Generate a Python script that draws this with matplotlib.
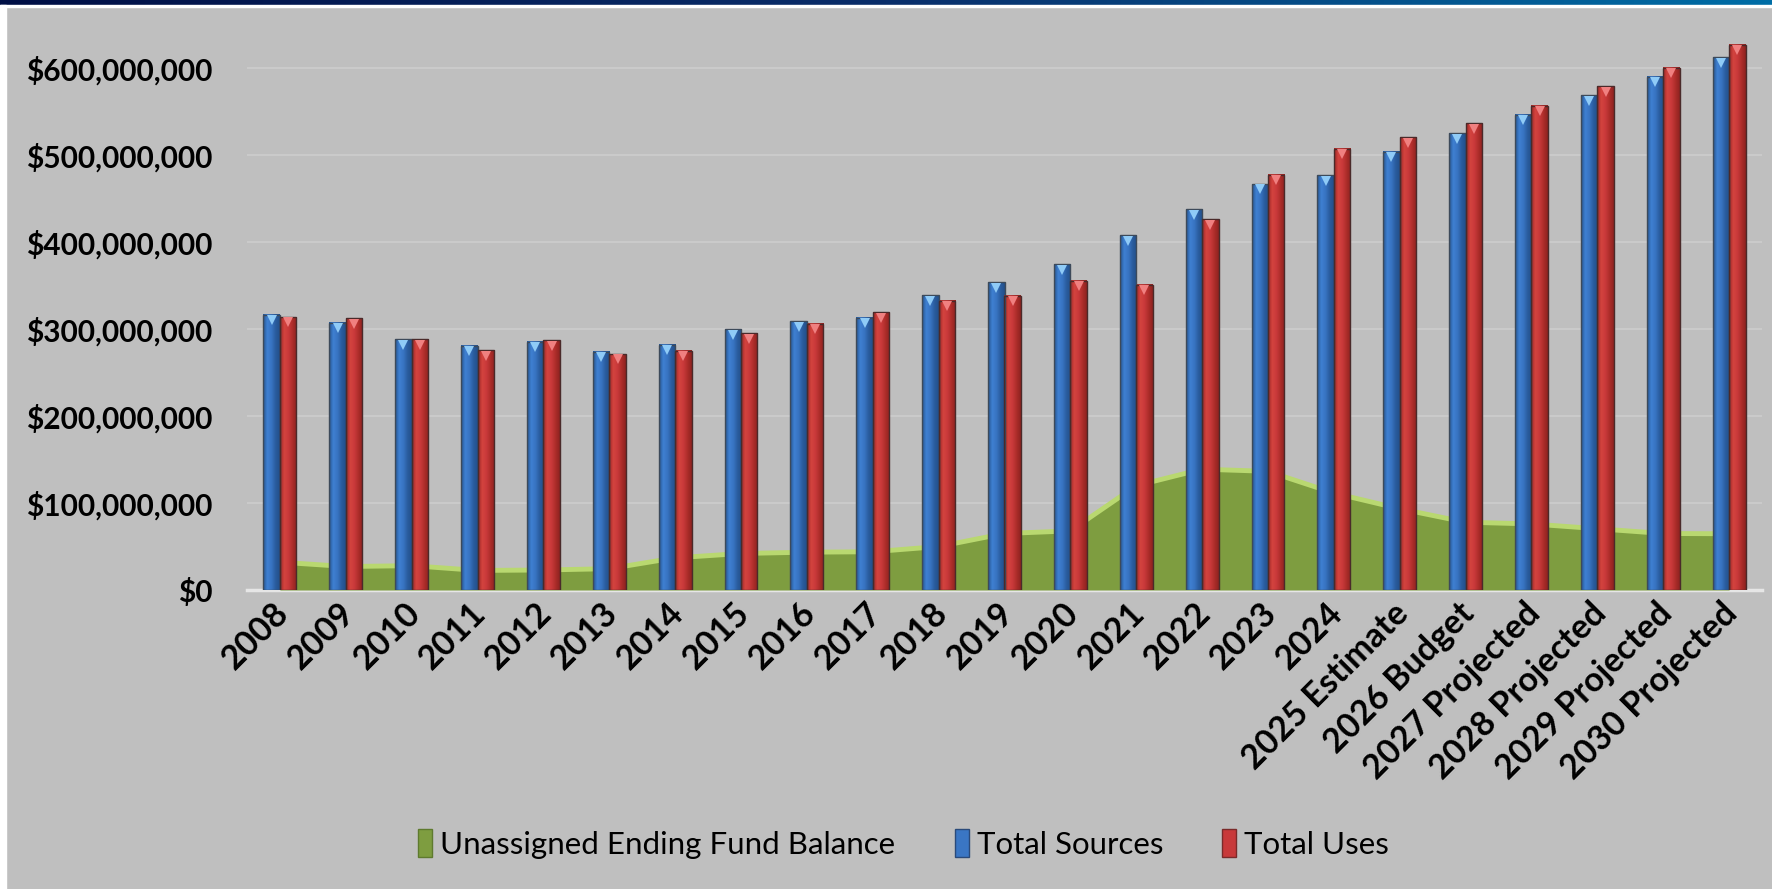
import numpy as np
import matplotlib.pyplot as plt
from matplotlib.colors import LinearSegmentedColormap
from matplotlib.patches import Patch
from matplotlib.ticker import FuncFormatter
import matplotlib.transforms as mtransforms

# values in millions of dollars
years = ['2008', '2009', '2010', '2011', '2012', '2013', '2014', '2015', '2016',
         '2017', '2018', '2019', '2020', '2021', '2022', '2023', '2024',
         '2025 Estimate', '2026 Budget', '2027 Projected', '2028 Projected',
         '2029 Projected', '2030 Projected']
total_sources = [316.5, 307.5, 288.5, 281, 285.5, 274, 282, 300, 309,
                 313, 339, 354, 374.5, 408, 438, 467, 477,
                 504, 525.5, 547, 569, 590.5, 613]
total_uses = [314, 312.5, 288.5, 276, 287.5, 271.5, 275, 295.5, 306.5,
              319.5, 332.5, 338.5, 355.5, 351, 426.5, 478, 507.5,
              521, 537, 557, 579.5, 601, 627.5]
fund_balance = [32, 27, 28, 22.5, 23, 24.5, 37, 42, 43.5,
                44, 50, 65, 68, 120, 139, 136.5, 111.5,
                93.5, 78, 76, 70.5, 65, 64.7]

plt.rcParams['font.family'] = ['Lato', 'DejaVu Sans']

fig = plt.figure(figsize=(17.72, 8.89), dpi=100, facecolor='#BFBFBF')

# header band + white margins
band = fig.add_axes([0, 1 - 5 / 889, 1, 5 / 889])
band.imshow(np.linspace(0, 1, 256).reshape(1, -1), aspect='auto',
            cmap=LinearSegmentedColormap.from_list('hdr', ['#000F45', '#0A2E6A', '#006EA6']))
band.axis('off')
fig.patches.append(plt.Rectangle((0, 0), 6 / 1772, 1 - 5 / 889, transform=fig.transFigure,
                                 color='white', zorder=0))
fig.patches.append(plt.Rectangle((0, 1 - 6.5 / 889), 1, 1.5 / 889, transform=fig.transFigure,
                                 color='white', zorder=0))

ax = fig.add_axes([247 / 1772, 1 - 590 / 889, 1515 / 1772, 565 / 889])
ax.set_facecolor('#BFBFBF')

x = np.arange(len(years))
w = 0.25

ax.fill_between(x, fund_balance, color='#7E9D40', zorder=2, lw=0)
ax.plot(x, fund_balance, color='#B9D870', lw=3.5, zorder=2.1)

b_src = ax.bar(x - w / 2, total_sources, w, zorder=4)
b_use = ax.bar(x + w / 2, total_uses, w, zorder=4)

grad = np.linspace(0, 1, 64).reshape(1, -1)
blue_cm = LinearSegmentedColormap.from_list('bl', ['#25548F', '#3F80D2', '#3874C2', '#2A5C9E', '#224F8A'])
red_cm = LinearSegmentedColormap.from_list('rd', ['#9A2624', '#D4443F', '#C9393A', '#AC2D2A', '#8E2220'])


def shade(bars, cmap, edge):
    for b in bars:
        x0, y0 = b.get_x(), b.get_y()
        ax.imshow(grad, extent=[x0, x0 + b.get_width(), y0, y0 + b.get_height()],
                  aspect='auto', cmap=cmap, zorder=3, interpolation='bilinear')
        b.set_facecolor('none')
        b.set_edgecolor(edge)
        b.set_linewidth(1.0)


shade(b_src, blue_cm, '#3D4A5A')
shade(b_use, red_cm, '#4A2A2A')

tri = mtransforms.offset_copy(ax.transData, fig=fig, x=0, y=-3.9, units='points')
ax.plot(x - w / 2, total_sources, 'v', ms=7.5, color='#8FCBF7', mew=0, transform=tri, zorder=5)
ax.plot(x + w / 2, total_uses, 'v', ms=7.5, color='#F08080', mew=0, transform=tri, zorder=5)

ax.set_xlim(-0.5, 22.5)
ax.set_ylim(0, 650)
ax.set_yticks(np.arange(0, 601, 100))
ax.yaxis.set_major_formatter(FuncFormatter(lambda v, p: '${:,.0f}'.format(v * 1e6)))
ax.grid(axis='y', color='#CACACA', lw=1.5, zorder=0)
ax.set_axisbelow(True)

for s in ['top', 'right', 'left']:
    ax.spines[s].set_visible(False)
ax.spines['bottom'].set_color('#E6E6E6')
ax.spines['bottom'].set_linewidth(2.5)
ax.spines['bottom'].set_zorder(1)

ax.tick_params(axis='y', length=0, pad=25, labelsize=21.5)
ax.tick_params(axis='x', length=0, pad=12, labelsize=24.5)
for lab in ax.get_yticklabels():
    lab.set_fontweight('bold')
ax.set_xticks(x)
ax.set_xticklabels(years, rotation=45, ha='right', va='center',
                   rotation_mode='anchor', fontweight='bold')
shift = mtransforms.ScaledTranslation(2.5 / 72, -1 / 72, fig.dpi_scale_trans)
for lab in ax.get_xticklabels():
    lab.set_transform(lab.get_transform() + shift)

handles = [Patch(facecolor='#7E9D40', edgecolor='#5E7A2E'),
           Patch(facecolor='#3A76C4', edgecolor='#2A4A7A'),
           Patch(facecolor='#C8393A', edgecolor='#7A2A2A')]
fig.legend(handles, ['Unassigned Ending Fund Balance', 'Total Sources', 'Total Uses'],
           loc='center', bbox_to_anchor=(0.51, 1 - 844 / 889), ncol=3, frameon=False,
           fontsize=22.5, handlelength=0.45, handleheight=1.0, handletextpad=0.25,
           columnspacing=1.9)

fig.savefig('out.png', dpi=100, facecolor=fig.get_facecolor())
